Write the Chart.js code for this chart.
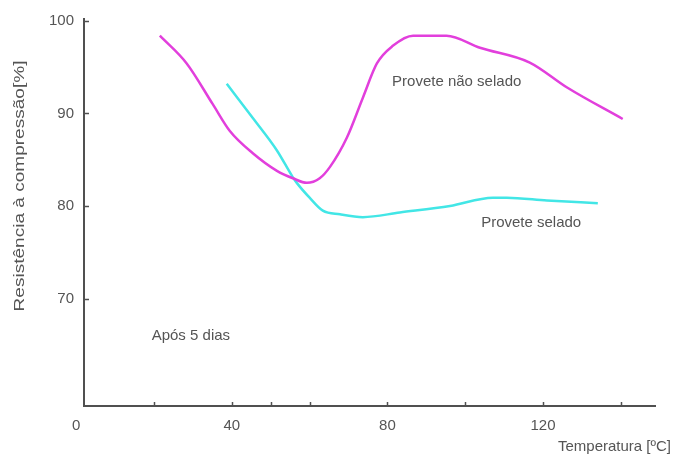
<!DOCTYPE html>
<html>
<head>
<meta charset="utf-8">
<script src="https://cdn.jsdelivr.net/npm/chart.js@4/dist/chart.umd.min.js"></script>
<style>
  html, body { margin: 0; padding: 0; background: #fff; }
  #wrap { width: 673px; height: 457px; }
</style>
</head>
<body>
<div id="wrap"><canvas id="chart" width="673" height="457"></canvas></div>
<script>
// Compressive strength after 5 days versus curing temperature
const temperaturaNaoSelado = [21.5, 28.4, 35.1, 39.5, 45.4, 51.6, 55.7, 59.3, 62.6, 65.2, 69.6, 73.7, 77.3, 81.4, 86.6, 95.2, 103.8, 116.6, 126.2, 140.5];
const resistenciaNaoSelado = [98.4, 95.4, 91.0, 88.1, 85.7, 83.8, 83.0, 82.5, 83.0, 84.2, 87.4, 91.7, 95.4, 97.3, 98.4, 98.4, 97.1, 95.5, 92.8, 89.4];

const temperaturaSelado = [38.7, 45.4, 51.6, 55.7, 56.7, 60.0, 63.4, 67.8, 73.7, 83.2, 96.1, 107.1, 110.7, 121.0, 134.1];
const resistenciaSelado = [93.2, 89.5, 86.0, 83.1, 82.5, 80.9, 79.5, 79.1, 78.8, 79.3, 80.0, 80.9, 80.9, 80.6, 80.3];

const xTickLabels = [0, 40, 80, 120];
const xTickMarks = [20, 40, 50, 60, 80, 100, 120, 140];
const yTickLabels = [70, 80, 90, 100];

const seriesNames = ['Provete não selado', 'Provete selado'];
const xTitle = 'Temperatura [ºC]';
const yTitle = 'Resistência à compressão[%]';
const noteText = 'Após 5 dias';

const FONT = '"Liberation Sans", Arial, sans-serif';
const TEXT = '#555';
const AXIS = '#505050';

const pairs = (xs, ys) => xs.map((v, i) => ({ x: v, y: ys[i] }));

// Text placed in data coordinates
const labelAnchors = [
  { text: seriesNames[0], x: 81.2, y: 93.4 },
  { text: seriesNames[1], x: 104.1, y: 78.2 },
  { text: noteText, x: 19.4, y: 66.0 }
];

const decor = {
  id: 'decor',
  afterDraw(chart) {
    const { ctx } = chart;
    const xs = chart.scales.x, ys = chart.scales.y;
    ctx.save();
    // inward tick marks
    ctx.strokeStyle = AXIS;
    ctx.lineWidth = 1.5;
    xTickMarks.forEach(v => {
      const px = Math.round(xs.getPixelForValue(v)) + 0.5;
      ctx.beginPath(); ctx.moveTo(px, ys.bottom); ctx.lineTo(px, ys.bottom - 4); ctx.stroke();
    });
    yTickLabels.forEach(v => {
      const py = Math.round(ys.getPixelForValue(v)) + 0.5;
      ctx.beginPath(); ctx.moveTo(xs.left, py); ctx.lineTo(xs.left + 5, py); ctx.stroke();
    });
    // in-plot labels
    ctx.fillStyle = TEXT;
    ctx.font = '15px ' + FONT;
    ctx.textBaseline = 'middle';
    ctx.textAlign = 'left';
    labelAnchors.forEach(a => {
      ctx.fillText(a.text, xs.getPixelForValue(a.x), ys.getPixelForValue(a.y));
    });
    // axis titles
    ctx.textAlign = 'right';
    ctx.fillText(xTitle, chart.width - 2, ys.bottom + 41);
    ctx.translate(20, 186);
    ctx.rotate(-Math.PI / 2);
    ctx.scale(1.27, 1);
    ctx.textAlign = 'center';
    ctx.fillText(yTitle, 0, 0);
    ctx.restore();
  }
};

new Chart(document.getElementById('chart'), {
  type: 'scatter',
  data: {
    datasets: [
      {
        label: seriesNames[0],
        data: pairs(temperaturaNaoSelado, resistenciaNaoSelado),
        showLine: true,
        borderColor: '#e23fdc',
        borderWidth: 2.5,
        pointRadius: 0,
        cubicInterpolationMode: 'monotone'
      },
      {
        label: seriesNames[1],
        data: pairs(temperaturaSelado, resistenciaSelado),
        showLine: true,
        borderColor: '#42e6e6',
        borderWidth: 2.5,
        pointRadius: 0,
        cubicInterpolationMode: 'monotone'
      }
    ]
  },
  options: {
    responsive: false,
    animation: false,
    layout: { padding: { top: 18, right: 18, left: 0, bottom: 0 } },
    plugins: { legend: { display: false }, tooltip: { enabled: false } },
    scales: {
      x: {
        type: 'linear',
        min: 2,
        max: 148.8,
        afterFit: s => { s.height = 51; },
        afterBuildTicks: s => { s.ticks = xTickLabels.map(v => ({ value: v })); },
        grid: { display: true, drawOnChartArea: false, drawTicks: false },
        border: { display: true, color: AXIS, width: 2 },
        ticks: { color: TEXT, padding: 11, font: { family: FONT, size: 15 }, maxRotation: 0 }
      },
      y: {
        type: 'linear',
        min: 58.4,
        max: 100.2,
        afterFit: s => { s.width = 84; },
        afterBuildTicks: s => { s.ticks = yTickLabels.map(v => ({ value: v })); },
        grid: { display: true, drawOnChartArea: false, drawTicks: false },
        border: { display: true, color: AXIS, width: 2 },
        ticks: { color: TEXT, padding: 10, font: { family: FONT, size: 15 } }
      }
    }
  },
  plugins: [decor]
});
</script>
</body>
</html>
